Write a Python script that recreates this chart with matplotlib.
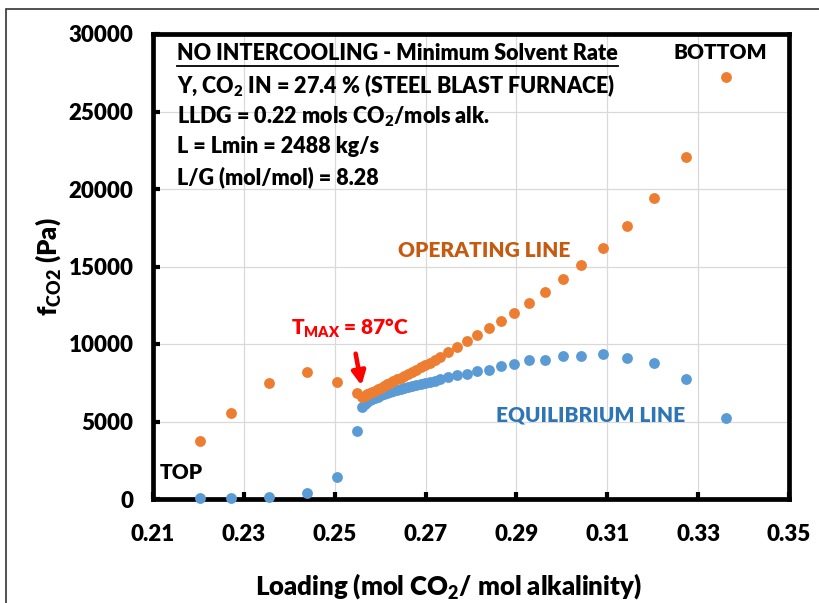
import matplotlib
matplotlib.use("Agg")
import matplotlib.pyplot as plt
from matplotlib.patches import Rectangle
from matplotlib.lines import Line2D

WEIGHT = 'heavy'

plt.rcParams['font.family'] = ['Lato', 'DejaVu Sans']
plt.rcParams['font.weight'] = WEIGHT
plt.rcParams['mathtext.fontset'] = 'custom'
plt.rcParams['mathtext.rm'] = 'Lato:heavy'
plt.rcParams['mathtext.it'] = 'Lato:heavy'
plt.rcParams['mathtext.bf'] = 'Lato:heavy'

# liquid loading (mol CO2 / mol alkalinity), top of column -> bottom
loading = [0.2204, 0.2272, 0.2355, 0.2439, 0.2506, 0.2548, 0.2561, 0.2567,
           0.2572, 0.2578, 0.2583, 0.2589, 0.2595, 0.2602, 0.2609, 0.2615,
           0.2622, 0.2629, 0.2637, 0.2645, 0.2653, 0.2661, 0.2670, 0.2679,
           0.2689, 0.2699, 0.2709, 0.2720, 0.2732, 0.2749, 0.2769, 0.2791,
           0.2813, 0.2839, 0.2865, 0.2894, 0.2928, 0.2963, 0.3002, 0.3042,
           0.3091, 0.3143, 0.3203, 0.3273, 0.3362]

# CO2 fugacity on the operating line (Pa)
f_operating = [3740, 5550, 7480, 8190, 7550, 6840, 6580, 6660,
               6750, 6830, 6910, 6990, 7090, 7190, 7290, 7390,
               7490, 7600, 7720, 7830, 7950, 8080, 8210, 8340,
               8490, 8640, 8790, 8950, 9150, 9460, 9810, 10170,
               10580, 11040, 11500, 12020, 12660, 13380, 14190, 15100,
               16190, 17610, 19420, 22070, 27230]

# equilibrium CO2 fugacity at the same loadings (Pa)
f_equilibrium = [50, 80, 150, 370, 1440, 4390, 5960, 6150,
                 6270, 6370, 6460, 6540, 6610, 6680, 6760, 6830,
                 6890, 6950, 7010, 7080, 7150, 7220, 7290, 7360,
                 7420, 7490, 7540, 7620, 7750, 7850, 8020, 8070,
                 8280, 8340, 8600, 8690, 8950, 8970, 9230, 9230,
                 9340, 9090, 8790, 7740, 5210]

x_ticks = [0.21, 0.23, 0.25, 0.27, 0.29, 0.31, 0.33, 0.35]
y_ticks = [0, 5000, 10000, 15000, 20000, 25000, 30000]

info_lines = [
    "Y, CO$_2$ IN = 27.4 % (STEEL BLAST FURNACE)",
    "LLDG = 0.22 mols CO$_2$/mols alk.",
    "L = Lmin = 2488 kg/s",
    "L/G (mol/mol) = 8.28",
]

fig = plt.figure(figsize=(8.19, 6.03), dpi=100)
ax = fig.add_axes([153 / 819, 1 - 499 / 603, 636 / 819, 465 / 603])

ax.plot(loading, f_equilibrium, 'o', color='#5B9BD5', markersize=7.8,
        markeredgewidth=0, clip_on=False, zorder=5)
ax.plot(loading, f_operating, 'o', color='#ED7D31', markersize=7.8,
        markeredgewidth=0, clip_on=False, zorder=6)

ax.set_xlim(0.21, 0.35)
ax.set_ylim(0, 30000)
ax.set_xticks(x_ticks)
ax.set_xticklabels([f"{t:.2f}" for t in x_ticks])
ax.set_yticks(y_ticks)
ax.grid(True, color='#D9D9D9', linewidth=0.9)
ax.set_axisbelow(True)

for side in ['left', 'bottom', 'top', 'right']:
    ax.spines[side].set_linewidth(3.4)
    ax.spines[side].set_color('black')
    ax.spines[side].set_zorder(4)

ax.tick_params(axis='both', direction='in', length=5, width=3,
               labelsize=16, colors='black')
ax.tick_params(axis='x', pad=18)
ax.tick_params(axis='y', pad=14)
ax.tick_params(top=False, right=False)

ax.set_xlabel("Loading (mol CO$_2$/ mol alkalinity)", fontsize=18.5,
              fontweight=WEIGHT, labelpad=12)
ax.xaxis.set_label_coords(0.465, -0.155)
ax.set_ylabel(r"f$_{\mathrm{CO2}}$ (Pa)", fontsize=18.5,
              fontweight=WEIGHT, labelpad=4)

# parameter block
title = ax.text(0.2153, 28710, "NO INTERCOOLING - Minimum Solvent Rate",
                fontsize=15.5, fontweight=WEIGHT, va='center', ha='left')
for i, line in enumerate(info_lines):
    ax.text(0.2153, 26650 - i * 1960, line, fontsize=15.5,
            fontweight=WEIGHT, va='center', ha='left')

ax.text(0.3348, 28800, "BOTTOM", fontsize=15, fontweight=WEIGHT,
        ha='center', va='center')
ax.text(0.2162, 1710, "TOP", fontsize=15, fontweight=WEIGHT,
        ha='center', va='center')
ax.text(0.2829, 16060, "OPERATING LINE", fontsize=15, fontweight=WEIGHT,
        color='#C55A11', ha='center', va='center')
ax.text(0.3064, 5450, "EQUILIBRIUM LINE", fontsize=15, fontweight=WEIGHT,
        color='#2E75B6', ha='center', va='center')
ax.text(0.2533, 11000, r"T$_{\mathrm{MAX}}$ = 87°C", fontsize=15,
        fontweight=WEIGHT, color='#FF0000', ha='center', va='center')
ax.annotate("", xy=(0.2560, 7150), xytext=(0.2545, 9550),
            arrowprops=dict(arrowstyle='-|>,head_length=0.8,head_width=0.4',
                            color='#FF0000', lw=3.3), zorder=7)

# underline the heading
fig.canvas.draw()
bb = title.get_window_extent().transformed(fig.transFigure.inverted())
fig.add_artist(Line2D([bb.x0, bb.x1], [bb.y0 - 0.002, bb.y0 - 0.002],
                      color='black', linewidth=1.3))

# outer frame
fig.add_artist(Rectangle((6 / 819, -0.05), 1.1, 1 - 9 / 603 + 0.05,
                         transform=fig.transFigure, fill=False,
                         edgecolor='#333333', linewidth=1.2))

fig.savefig("out.png", dpi=100)
